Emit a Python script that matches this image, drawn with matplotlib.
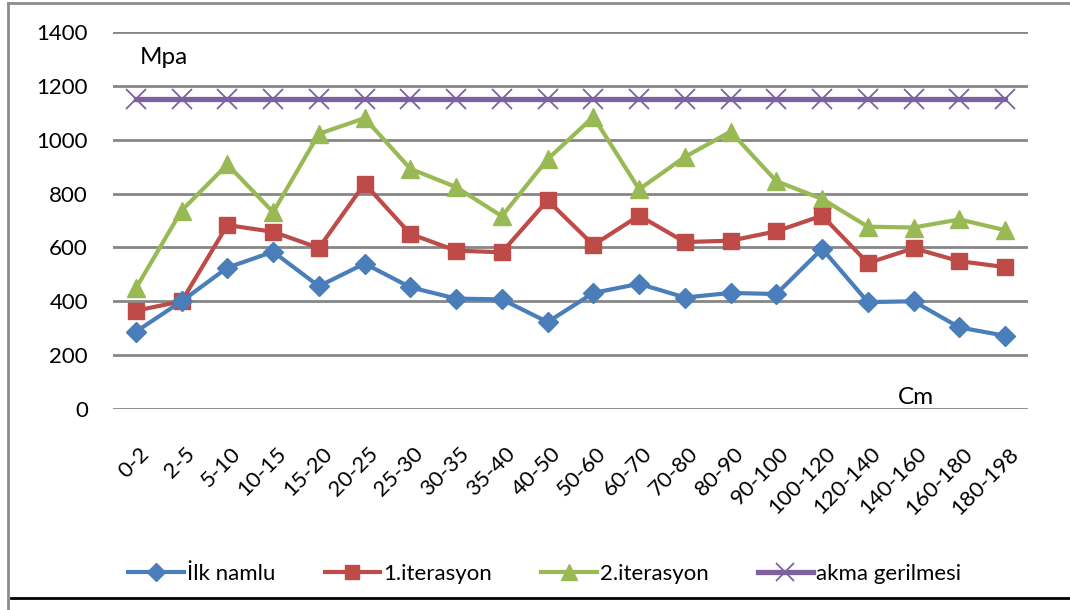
import matplotlib

matplotlib.use("Agg")

import matplotlib.pyplot as plt
import matplotlib.transforms as mtransforms
from matplotlib.lines import Line2D

plt.rcParams["font.family"] = ["Lato", "DejaVu Sans"]

# ölçüm aralıkları (cm)
araliklar = ["0-2", "2-5", "5-10", "10-15", "15-20", "20-25", "25-30", "30-35",
             "35-40", "40-50", "50-60", "60-70", "70-80", "80-90", "90-100",
             "100-120", "120-140", "140-160", "160-180", "180-198"]

# gerilme değerleri (Mpa)
ilk_namlu = [287, 400, 525, 584, 456, 540, 452, 410, 407, 323,
             431, 465, 414, 431, 427, 595, 397, 400, 303, 272]
iterasyon_1 = [365, 400, 683, 658, 598, 837, 650, 588, 582, 775,
               609, 718, 620, 625, 660, 718, 542, 597, 549, 527]
iterasyon_2 = [448, 737, 908, 731, 1022, 1080, 892, 824, 716, 928,
               1085, 816, 936, 1030, 846, 780, 677, 674, 704, 664]
akma_gerilmesi = [1150] * len(araliklar)

fig = plt.figure(figsize=(10.7, 6.1), dpi=100)
ax = fig.add_axes([113 / 1070, 1 - 409 / 610, 915 / 1070, 377 / 610])

x = list(range(len(araliklar)))
ax.plot(x, ilk_namlu, color="#4A7EBB", lw=3, marker="D", ms=10,
        label="İlk namlu", zorder=4)
ax.plot(x, iterasyon_1, color="#BE4B48", lw=3, marker="s", ms=11.5,
        label="1.iterasyon", zorder=3)
ax.plot(x, iterasyon_2, color="#98B954", lw=3, marker="^", ms=13,
        label="2.iterasyon", zorder=2)
ax.plot(x, akma_gerilmesi, color="#7D60A0", lw=3.8, marker="x", ms=14, mew=1.3,
        label="akma gerilmesi", zorder=2)

ax.set_xlim(-0.5, len(araliklar) - 0.5)
ax.set_ylim(0, 1400)
ax.set_yticks(range(0, 1401, 200))
ax.yaxis.grid(True, color="#868686", lw=2)
ax.set_axisbelow(True)
for s in ax.spines.values():
    s.set_visible(False)

ax.tick_params(axis="y", length=0, pad=18, labelsize=16)
ax.tick_params(axis="x", length=0, pad=30, labelsize=16)
ax.set_xticks(x)
ax.set_xticklabels(araliklar, rotation=45, ha="right", rotation_mode="anchor", va="center")
kayma = mtransforms.ScaledTranslation(10 / 100, 0, fig.dpi_scale_trans)
for lbl in ax.get_xticklabels():
    lbl.set_transform(lbl.get_transform() + kayma)

ax.text(140 / 1070, 1 - 58 / 610, "Mpa", transform=fig.transFigure,
        fontsize=17.5, va="center", ha="left")
ax.text(898 / 1070, 1 - 398 / 610, "Cm", transform=fig.transFigure,
        fontsize=17.5, va="center", ha="left")

fig.legend(loc="center", bbox_to_anchor=(545 / 1070, 1 - 574 / 610), ncol=4,
           frameon=False, fontsize=16, handlelength=2.5, handletextpad=0.15,
           columnspacing=2.2, markerscale=0.9)

# çerçeve çizgileri
fig.add_artist(Line2D([8 / 1070, 8 / 1070], [0, 1 - 3 / 610], color="#8C8C8C", lw=2))
fig.add_artist(Line2D([8 / 1070, 1], [1 - 3 / 610, 1 - 3 / 610], color="#8C8C8C", lw=2))
fig.add_artist(Line2D([11 / 1070, 1], [1 - 598 / 610, 1 - 598 / 610], color="black", lw=2))

fig.savefig("out.png", dpi=100)
